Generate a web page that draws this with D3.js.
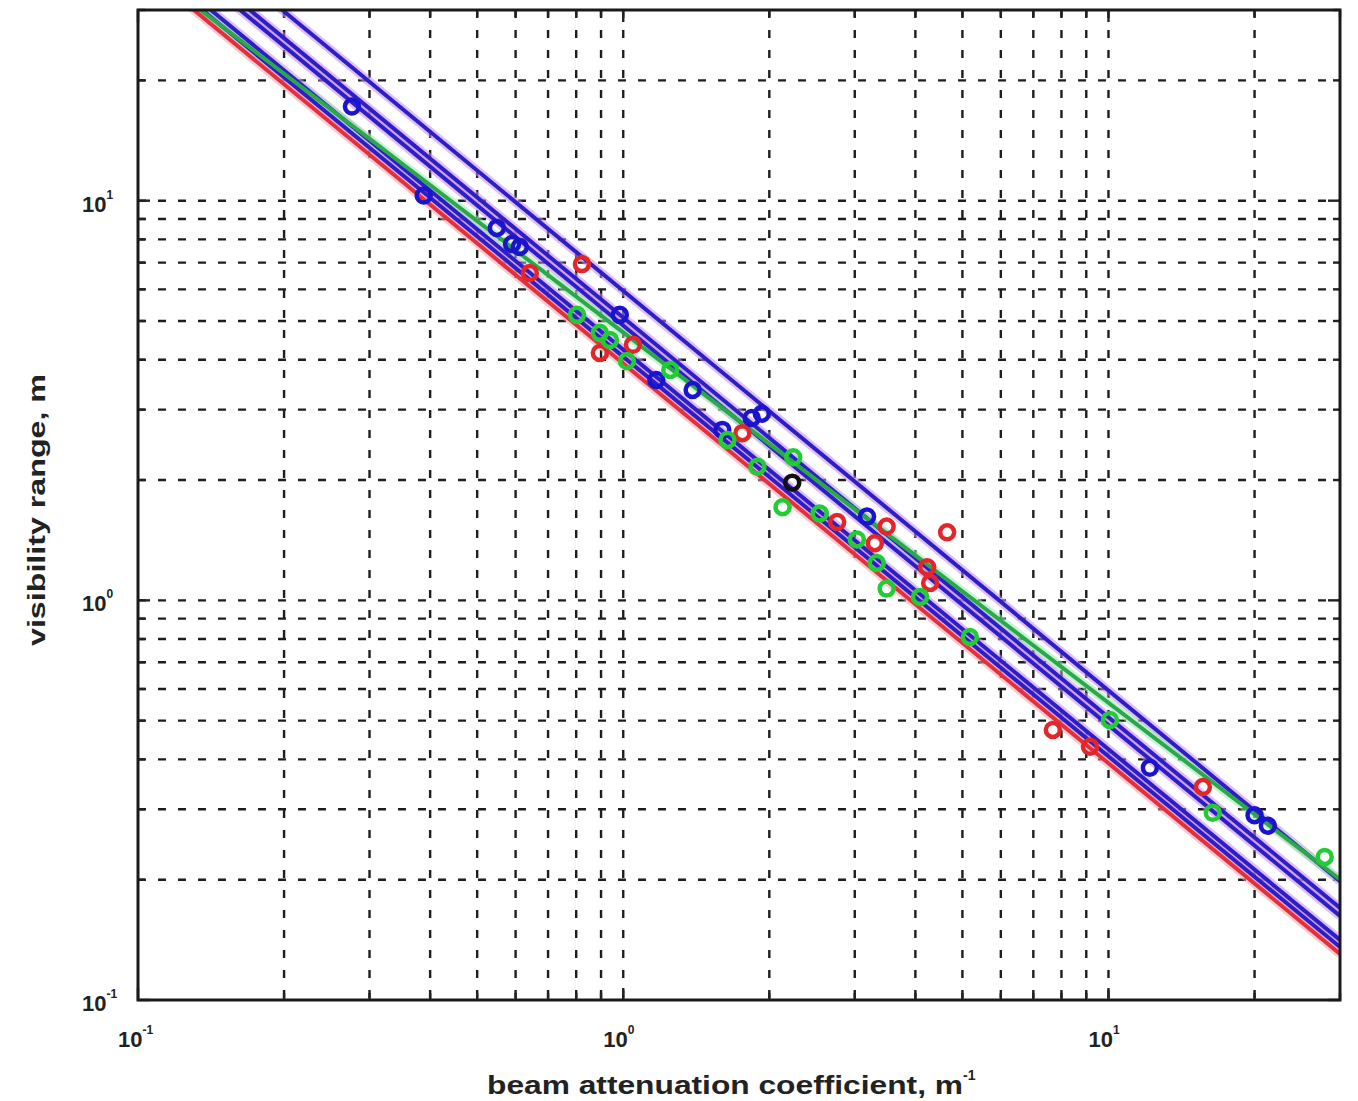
<!DOCTYPE html>
<html lang="en">
<head>
<meta charset="UTF-8">
<title>Visibility range vs beam attenuation</title>
<script src="https://d3js.org/d3.v7.min.js"></script>
<style>
    body { margin: 0; background: #fff; }
    svg { display: block; }
    text { font-family: "Liberation Sans", Arial, sans-serif; fill: #222; }
</style>
</head>
<body>
<script>
    // measured points: beam attenuation coefficient (1/m) and visibility range (m)
    const blueSigma = [0.276, 0.388, 0.549, 0.590, 0.612, 0.984, 1.17, 1.39, 1.60, 1.84, 1.93, 3.18, 12.17, 20.0, 21.3];
    const blueVis   = [17.2, 10.3, 8.55, 7.79, 7.66, 5.18, 3.56, 3.36, 2.67, 2.86, 2.93, 1.62, 0.381, 0.290, 0.273];

    const redSigma = [0.642, 0.822, 0.895, 1.047, 1.76, 2.76, 3.49, 3.30, 4.65, 4.23, 4.29, 7.68, 9.16, 15.65];
    const redVis   = [6.59, 6.94, 4.16, 4.36, 2.62, 1.57, 1.53, 1.39, 1.48, 1.21, 1.105, 0.474, 0.430, 0.341];

    const greenSigma = [0.803, 0.895, 0.939, 1.018, 1.25, 1.64, 1.89, 2.24, 2.13, 2.54, 3.03, 3.33, 3.49, 4.09, 5.18, 10.07, 16.4, 27.9];
    const greenVis   = [5.18, 4.67, 4.48, 3.97, 3.77, 2.52, 2.16, 2.28, 1.71, 1.65, 1.42, 1.24, 1.07, 1.02, 0.81, 0.502, 0.294, 0.228];

    const blackSigma = [2.23];
    const blackVis   = [1.97];

    // curves V = a * sigma^(-b)
    const curveColors = ["blue", "blue", "blue", "blue", "blue", "red", "green"];
    const curveA      = [4.07, 4.24, 4.87, 5.10, 5.95, 3.912, 4.68];
    const curveB      = [1, 1, 1, 1, 1, 1, 0.9265];

    const xTickExps = [-1, 0, 1];
    const yTickExps = [-1, 0, 1];

    const W = 1358, H = 1101;
    const margin = {left: 138, top: 10, right: 18, bottom: 101};
    const pw = W - margin.left - margin.right;
    const ph = H - margin.top - margin.bottom;

    const colorMap = {blue: "#1a14cf", red: "#e3262a", green: "#22cc33", black: "#111"};
    const lineMap  = {blue: "#2c1fc8", red: "#e5303a", green: "#2aa84a"};
    const haloMap  = {blue: "#c98ae6", red: "#f3a0b0", green: "#9be8b0"};

    const x = d3.scaleLog().domain([0.1, 30]).range([0, pw]);
    const y = d3.scaleLog().domain([0.1, 30]).range([ph, 0]);

    const svg = d3.select("body").append("svg")
        .attr("width", W)
        .attr("height", H);

    svg.append("defs").append("clipPath").attr("id", "clip")
        .append("rect").attr("width", pw).attr("height", ph);

    const g = svg.append("g").attr("transform", `translate(${margin.left},${margin.top})`);

    // minor/major positions for grid
    function logTicks(lo, hi) {
        const out = [];
        for (let e = -1; e <= 1; e++) {
            for (let m = 1; m <= 9; m++) {
                const v = m * Math.pow(10, e);
                if (v >= lo && v <= hi) out.push(v);
            }
        }
        return out;
    }
    const gridVals = logTicks(0.1, 30);

    const grid = g.append("g").attr("stroke", "#1e1e1e").attr("stroke-width", 2.4)
        .attr("stroke-dasharray", "8,12");
    grid.selectAll(".vx").data(gridVals.filter(v => v > 0.1 && v < 30)).enter().append("line")
        .attr("x1", d => x(d)).attr("x2", d => x(d))
        .attr("y1", 0).attr("y2", ph);
    grid.selectAll(".hy").data(gridVals.filter(v => v > 0.1 && v < 30)).enter().append("line")
        .attr("y1", d => y(d)).attr("y2", d => y(d))
        .attr("x1", 0).attr("x2", pw);

    // inward ticks on all four sides
    const ticks = g.append("g").attr("stroke", "#222").attr("stroke-width", 2.4);
    gridVals.forEach(v => {
        const major = Math.abs(Math.log10(v) - Math.round(Math.log10(v))) < 1e-9;
        const len = major ? 12 : 7;
        ticks.append("line").attr("x1", x(v)).attr("x2", x(v)).attr("y1", ph).attr("y2", ph - len);
        ticks.append("line").attr("x1", x(v)).attr("x2", x(v)).attr("y1", 0).attr("y2", len);
        ticks.append("line").attr("y1", y(v)).attr("y2", y(v)).attr("x1", 0).attr("x2", len);
        ticks.append("line").attr("y1", y(v)).attr("y2", y(v)).attr("x1", pw).attr("x2", pw - len);
    });

    // curves
    const line = d3.line().x(d => x(d[0])).y(d => y(d[1]));
    const plot = g.append("g").attr("clip-path", "url(#clip)");
    const sigmaEnds = [0.1, 30];
    curveA.forEach((a, i) => {
        const pts = sigmaEnds.map(s => [s, a * Math.pow(s, -curveB[i])]);
        plot.append("path").datum(pts)
            .attr("d", line)
            .attr("fill", "none")
            .attr("stroke", haloMap[curveColors[i]])
            .attr("stroke-width", 9)
            .attr("opacity", 0.55);
    });
    curveA.forEach((a, i) => {
        const pts = sigmaEnds.map(s => [s, a * Math.pow(s, -curveB[i])]);
        plot.append("path").datum(pts)
            .attr("d", line)
            .attr("fill", "none")
            .attr("stroke", lineMap[curveColors[i]])
            .attr("stroke-width", 4);
    });

    // markers
    function drawSet(sig, vis, col) {
        plot.append("g").selectAll("circle")
            .data(sig.map((s, i) => [s, vis[i]]))
            .enter().append("circle")
            .attr("cx", d => x(d[0]))
            .attr("cy", d => y(d[1]))
            .attr("r", 7)
            .attr("fill", "none")
            .attr("stroke", colorMap[col])
            .attr("stroke-width", 4.5);
    }
    drawSet(redSigma, redVis, "red");
    drawSet(blueSigma, blueVis, "blue");
    drawSet(greenSigma, greenVis, "green");
    drawSet(blackSigma, blackVis, "black");

    // frame
    g.append("rect").attr("width", pw).attr("height", ph)
        .attr("fill", "none").attr("stroke", "#1a1a1a").attr("stroke-width", 3);

    // tick labels
    xTickExps.forEach(e => {
        const t = svg.append("text")
            .attr("x", margin.left + x(Math.pow(10, e)) - 20)
            .attr("y", margin.top + ph + 47)
            .attr("font-size", 22).attr("font-weight", "bold");
        t.append("tspan").text("10");
        t.append("tspan").attr("dy", -13).attr("font-size", 12).text(e);
    });
    yTickExps.forEach(e => {
        const t = svg.append("text")
            .attr("x", 82)
            .attr("y", margin.top + y(Math.pow(10, e)) + 11)
            .attr("font-size", 22).attr("font-weight", "bold");
        t.append("tspan").text("10");
        t.append("tspan").attr("dy", -13).attr("font-size", 12).text(e);
    });

    // axis labels
    const xl = svg.append("text")
        .attr("x", 487).attr("y", 1094)
        .attr("font-size", 26).attr("font-weight", "bold");
    xl.append("tspan").attr("textLength", 476).attr("lengthAdjust", "spacingAndGlyphs")
        .text("beam attenuation coefficient, m");
    xl.append("tspan").attr("dy", -14).attr("font-size", 14).text("-1");

    svg.append("text")
        .attr("transform", "translate(45,646) rotate(-90)")
        .attr("font-size", 24).attr("font-weight", "bold")
        .attr("textLength", 272).attr("lengthAdjust", "spacingAndGlyphs")
        .text("visibility range, m");
</script>
</body>
</html>
